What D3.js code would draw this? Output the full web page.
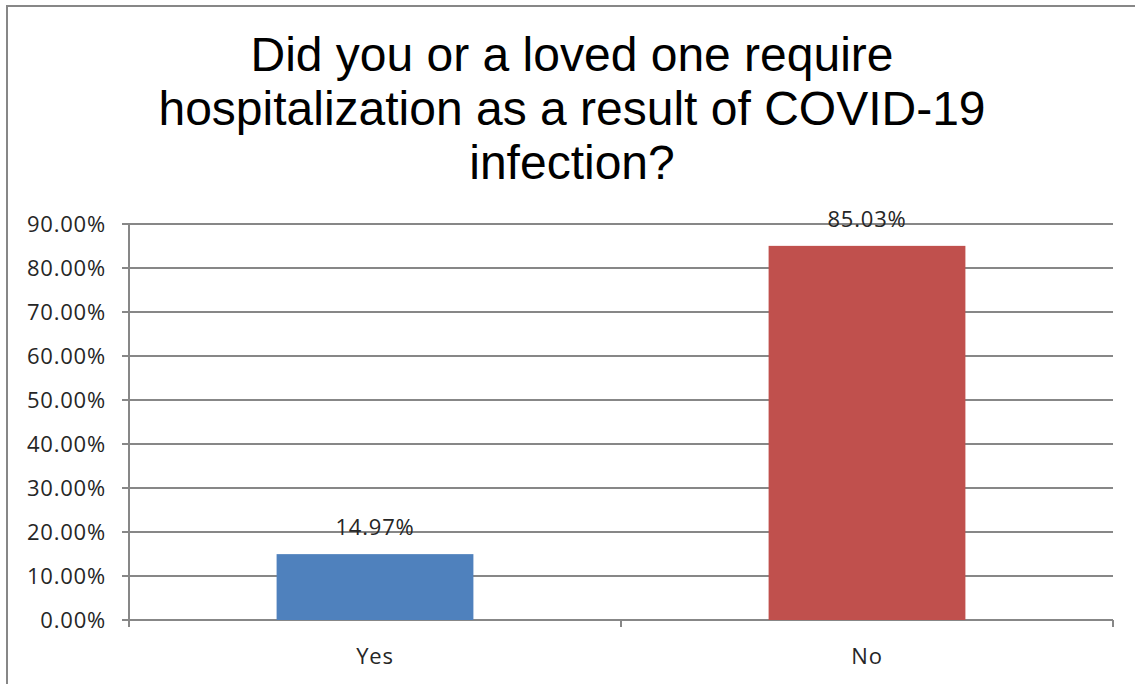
<!DOCTYPE html>
<html><head><meta charset="utf-8">
<script src="https://cdn.jsdelivr.net/npm/d3@7"></script>
<style>html,body{margin:0;padding:0;background:#fff;overflow:hidden}</style>
</head><body>
<script>
const categories = ["Yes", "No"];
const values = [0.1497, 0.8503];
const labels = ["14.97%", "85.03%"];
const yTicks = [0, 0.1, 0.2, 0.3, 0.4, 0.5, 0.6, 0.7, 0.8, 0.9];
const colors = ["#4F81BD", "#C0504D"];
const titleLines = ["Did you or a loved one require", "hospitalization as a result of COVID-19", "infection?"];

(function () {
const W = 1135, H = 684;
const svg = d3.select("body").append("svg").attr("width", W).attr("height", H);

svg.append("rect").attr("x", 7).attr("y", 6).attr("width", 1140).attr("height", 700)
  .attr("fill", "#fff").attr("stroke", "#878787").attr("stroke-width", 2);

const pLeft = 129, pRight = 1113, pTop = 224, pBottom = 620;
const x = d3.scaleBand().domain(categories).range([pLeft, pRight]).paddingInner(0.6).paddingOuter(0.3);
const y = d3.scaleLinear().domain([0, 0.9]).range([pBottom, pTop]);

const grid = "#878787";
svg.append("g").selectAll("line").data(yTicks).join("line")
  .attr("x1", pLeft - 7).attr("x2", pRight).attr("y1", d => y(d)).attr("y2", d => y(d))
  .attr("stroke", grid).attr("stroke-width", 2);
svg.append("line").attr("x1", pLeft).attr("x2", pLeft).attr("y1", pTop).attr("y2", pBottom + 6)
  .attr("stroke", grid).attr("stroke-width", 2);
const xb = d3.scaleLinear().domain([0, 2]).range([pLeft, pRight]);
svg.append("g").selectAll("line").data([0, 1, 2]).join("line")
  .attr("x1", d => xb(d)).attr("x2", d => xb(d)).attr("y1", pBottom).attr("y2", pBottom + 7)
  .attr("stroke", grid).attr("stroke-width", 2);

const lblFont = "'Open Sans', 'Liberation Sans', sans-serif";
const fs = 22, ls = 0.8;
svg.append("g").selectAll("text").data(yTicks).join("text")
  .attr("x", 106).attr("y", d => y(d)).attr("dy", "0.36em").attr("text-anchor", "end")
  .attr("font-family", lblFont).attr("font-size", fs).attr("letter-spacing", ls).attr("fill", "#262626")
  .text(d => d3.format(".2%")(d));

svg.append("g").selectAll("rect").data(values).join("rect")
  .attr("x", (d, i) => x(categories[i])).attr("width", x.bandwidth())
  .attr("y", d => y(d)).attr("height", d => pBottom - y(d))
  .attr("fill", (d, i) => colors[i]);

svg.append("g").selectAll("text").data(values).join("text")
  .attr("x", (d, i) => x(categories[i]) + x.bandwidth() / 2).attr("y", d => y(d) - 19)
  .attr("text-anchor", "middle")
  .attr("font-family", lblFont).attr("font-size", fs).attr("letter-spacing", ls).attr("fill", "#262626")
  .text((d, i) => labels[i]);

svg.append("g").selectAll("text").data(categories).join("text")
  .attr("x", d => x(d) + x.bandwidth() / 2).attr("y", 664).attr("text-anchor", "middle")
  .attr("font-family", lblFont).attr("font-size", fs).attr("letter-spacing", ls).attr("fill", "#262626")
  .text(d => d);

svg.append("g").selectAll("text").data(titleLines).join("text")
  .attr("x", 572).attr("y", (d, i) => 71 + i * 54).attr("text-anchor", "middle")
  .attr("font-family", "'Liberation Sans', Arial, sans-serif").attr("font-size", 48).attr("fill", "#000")
  .text(d => d);
})();
</script>
</body></html>
